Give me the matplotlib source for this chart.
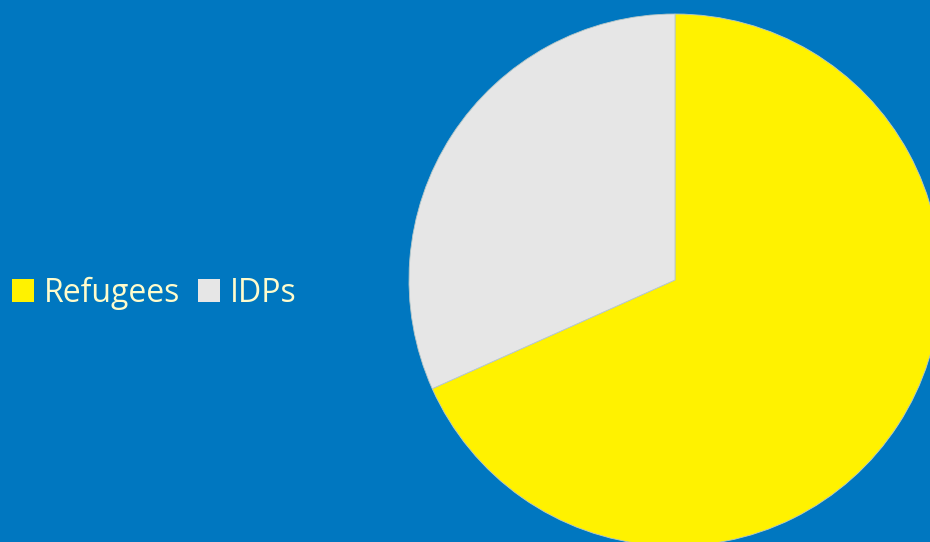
import matplotlib
matplotlib.use("Agg")
import matplotlib.pyplot as plt
from matplotlib.patches import Patch

categories = ["Refugees", "IDPs"]
values = [68.3, 31.7]
colors = ["#FFF200", "#E6E6E6"]
bg = "#0077C0"
text_color = "#FFFCCC"

W, H = 930, 542
fig = plt.figure(figsize=(W / 100, H / 100), dpi=100, facecolor=bg)

cx, cy, r = 675, 280, 266
ax = fig.add_axes([(cx - r) / W, (H - (cy + r)) / H, 2 * r / W, 2 * r / H])
ax.set_facecolor(bg)
ax.pie(values, colors=colors, startangle=90, counterclock=False, radius=1,
       wedgeprops=dict(linewidth=0.6, edgecolor="#B8C8C8"))
ax.set_xlim(-1, 1)
ax.set_ylim(-1, 1)
ax.set_aspect("auto")
ax.axis("off")

handles = [Patch(facecolor=c, edgecolor="none") for c in colors]
leg = fig.legend(handles, categories, loc="center left",
                 bbox_to_anchor=(12 / W, 1 - 293 / H), frameon=False,
                 borderpad=0, borderaxespad=0,
                 ncol=2, prop={"family": "Open Sans", "size": 23},
                 handlelength=0.7, handleheight=0.7, handletextpad=0.3,
                 columnspacing=0.55, labelcolor=text_color)

fig.savefig("out.png", dpi=100, facecolor=bg)
